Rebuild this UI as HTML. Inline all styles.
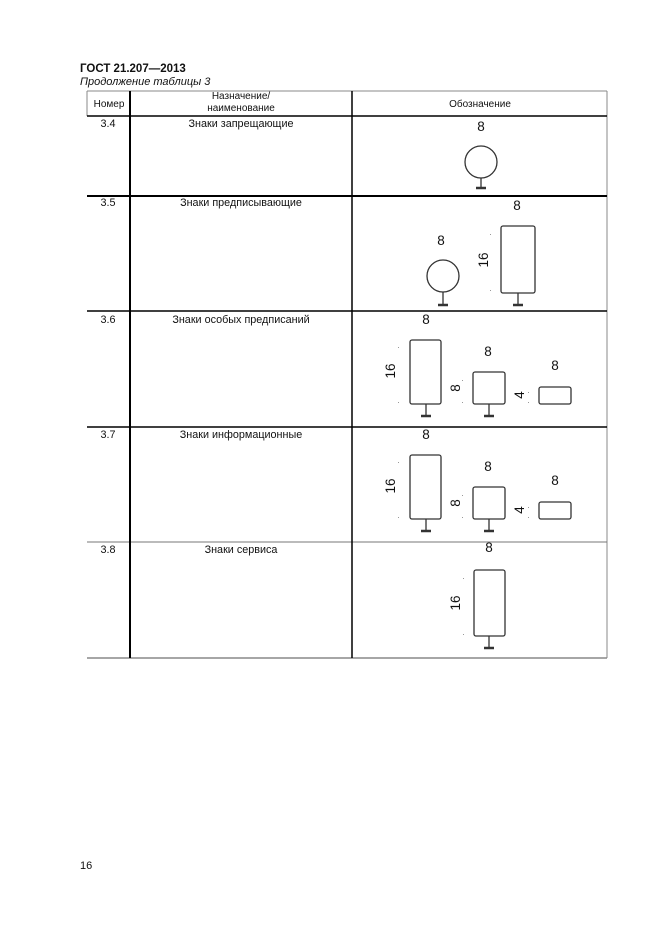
<!DOCTYPE html>
<html><head><meta charset="utf-8"><style>
html,body{margin:0;padding:0;background:#fff;}
svg{display:block;}
text{font-family:"Liberation Sans",sans-serif;fill:#111;}
</style></head><body>
<svg width="661" height="936" viewBox="0 0 661 936" xmlns="http://www.w3.org/2000/svg">
<text x="80" y="72" font-size="11.5" font-weight="bold">ГОСТ 21.207—2013</text>
<text x="80" y="85" font-size="11" font-style="italic">Продолжение таблицы 3</text>
<g stroke="#888" stroke-width="1" fill="none">
<line x1="87" y1="91" x2="607" y2="91"/>
<line x1="607" y1="91" x2="607" y2="658"/>
<line x1="87" y1="91" x2="87" y2="116"/>
<line x1="87" y1="658" x2="607" y2="658" stroke-width="1.5"/>
</g>
<g stroke="#000" fill="none">
<line x1="87" y1="116" x2="607" y2="116" stroke-width="1.5"/>
<line x1="87" y1="196" x2="607" y2="196" stroke-width="2"/>
<line x1="87" y1="311" x2="607" y2="311" stroke-width="1.5"/>
<line x1="87" y1="427" x2="607" y2="427" stroke-width="1.5"/>
<line x1="87" y1="542" x2="607" y2="542" stroke-width="1" stroke="#777"/>
<line x1="130" y1="91" x2="130" y2="658" stroke-width="2"/>
<line x1="352" y1="91" x2="352" y2="658" stroke-width="1.5"/>
</g>
<g font-size="10" text-anchor="middle">
<text x="109" y="107">Номер</text>
<text x="241" y="99">Назначение/</text>
<text x="241" y="111">наименование</text>
<text x="480" y="107">Обозначение</text>
</g>
<g font-size="10.8" text-anchor="middle">
<text x="108" y="127">3.4</text><text x="241" y="127">Знаки запрещающие</text>
<text x="108" y="206">3.5</text><text x="241" y="206">Знаки предписывающие</text>
<text x="108" y="323">3.6</text><text x="241" y="323">Знаки особых предписаний</text>
<text x="108" y="438">3.7</text><text x="241" y="438">Знаки информационные</text>
<text x="108" y="553">3.8</text><text x="241" y="553">Знаки сервиса</text>
</g>
<g stroke="#333" stroke-width="1.3" fill="none">
<circle cx="481" cy="162" r="16"/><line x1="481" y1="178" x2="481" y2="188"/>
<circle cx="443" cy="276" r="16"/><line x1="443" y1="292" x2="443" y2="305"/>
<rect x="501" y="226" width="34" height="67" rx="2"/><line x1="518" y1="293" x2="518" y2="305"/>
<rect x="410" y="340" width="31" height="64" rx="2"/><line x1="426" y1="404" x2="426" y2="416"/>
<rect x="473" y="372" width="32" height="32" rx="2"/><line x1="489" y1="404" x2="489" y2="416"/>
<rect x="539" y="387" width="32" height="17" rx="2"/>
<rect x="410" y="455" width="31" height="64" rx="2"/><line x1="426" y1="519" x2="426" y2="531"/>
<rect x="473" y="487" width="32" height="32" rx="2"/><line x1="489" y1="519" x2="489" y2="531"/>
<rect x="539" y="502" width="32" height="17" rx="2"/>
<rect x="474" y="570" width="31" height="66" rx="2"/><line x1="489" y1="636" x2="489" y2="648"/>
</g>
<g stroke="#333" stroke-width="2.5">
<line x1="476" y1="188" x2="486" y2="188"/>
<line x1="438" y1="305" x2="448" y2="305"/>
<line x1="513" y1="305" x2="523" y2="305"/>
<line x1="421" y1="416" x2="431" y2="416"/>
<line x1="484" y1="416" x2="494" y2="416"/>
<line x1="421" y1="531" x2="431" y2="531"/>
<line x1="484" y1="531" x2="494" y2="531"/>
<line x1="484" y1="648" x2="494" y2="648"/>
</g>
<g fill="#999">
<rect x="398" y="347" width="1" height="1"/><rect x="398" y="402" width="1" height="1"/>
<rect x="462" y="380" width="1" height="1"/><rect x="462" y="402" width="1" height="1"/>
<rect x="528" y="392" width="1" height="1"/><rect x="528" y="402" width="1" height="1"/>
<rect x="398" y="462" width="1" height="1"/><rect x="398" y="517" width="1" height="1"/>
<rect x="462" y="495" width="1" height="1"/><rect x="462" y="517" width="1" height="1"/>
<rect x="528" y="507" width="1" height="1"/><rect x="528" y="517" width="1" height="1"/>
<rect x="463" y="578" width="1" height="1"/><rect x="463" y="634" width="1" height="1"/>
<rect x="490" y="234" width="1" height="1"/><rect x="490" y="290" width="1" height="1"/>
</g>
<g font-size="13.5" text-anchor="middle" fill="#333">
<text x="481" y="131">8</text>
<text x="441" y="245">8</text>
<text x="517" y="210">8</text>
<text transform="translate(488,260) rotate(-90)">16</text>
<text x="426" y="324">8</text>
<text transform="translate(395,371) rotate(-90)">16</text>
<text x="488" y="356">8</text>
<text transform="translate(460,388) rotate(-90)">8</text>
<text x="555" y="370">8</text>
<text transform="translate(524,395) rotate(-90)">4</text>
<text x="426" y="439">8</text>
<text transform="translate(395,486) rotate(-90)">16</text>
<text x="488" y="471">8</text>
<text transform="translate(460,503) rotate(-90)">8</text>
<text x="555" y="485">8</text>
<text transform="translate(524,510) rotate(-90)">4</text>
<text x="489" y="552">8</text>
<text transform="translate(460,603) rotate(-90)">16</text>
</g>
<text x="80" y="869" font-size="11">16</text>
</svg>
</body></html>
